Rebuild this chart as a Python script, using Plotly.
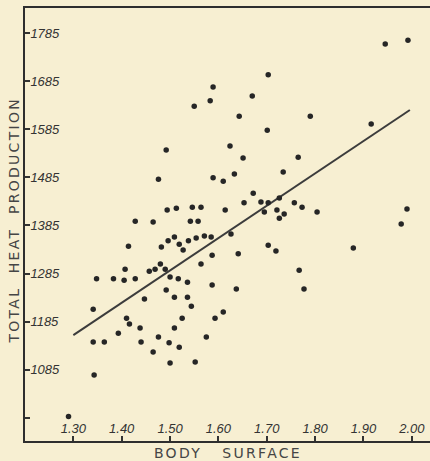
import plotly.graph_objects as go

# Body surface (sq. m) of each subject
body_surface = [
    1.29, 1.343, 1.341, 1.364, 1.341, 1.348, 1.383, 1.393, 1.405, 1.428,
    1.407, 1.414, 1.410, 1.416, 1.428, 1.438, 1.440, 1.447, 1.457, 1.465,
    1.465, 1.469, 1.476, 1.476, 1.480, 1.482, 1.490, 1.492, 1.492, 1.494,
    1.496, 1.498, 1.500, 1.500, 1.509, 1.509, 1.509, 1.513, 1.517, 1.519,
    1.519, 1.525, 1.527, 1.536, 1.536, 1.538, 1.542, 1.546, 1.544, 1.550,
    1.552, 1.554, 1.558, 1.564, 1.564, 1.571, 1.575, 1.583, 1.585, 1.587,
    1.587, 1.589, 1.589, 1.593, 1.610, 1.610, 1.614, 1.624, 1.626, 1.633,
    1.637, 1.641, 1.643, 1.651, 1.653, 1.670, 1.672, 1.688, 1.695, 1.701,
    1.703, 1.703, 1.703, 1.719, 1.721, 1.726, 1.726, 1.734, 1.736, 1.757,
    1.765, 1.767, 1.773, 1.777, 1.790, 1.804, 1.879, 1.916, 1.945, 1.978,
    1.990, 1.992,
]

# Total heat production of each subject
heat_production = [
    988, 1074, 1143, 1143, 1211, 1274, 1274, 1161, 1271, 1274,
    1294, 1342, 1192, 1180, 1394, 1172, 1143, 1232, 1290, 1392,
    1122, 1294, 1153, 1481, 1305, 1340, 1294, 1251, 1542, 1417,
    1353, 1141, 1278, 1099, 1361, 1236, 1172, 1421, 1274, 1346,
    1132, 1192, 1334, 1267, 1236, 1353, 1394, 1423, 1217, 1633,
    1101, 1359, 1394, 1423, 1305, 1363, 1153, 1644, 1361, 1323,
    1261, 1484, 1673, 1192, 1477, 1205, 1417, 1550, 1367, 1492,
    1253, 1326, 1612, 1525, 1432, 1654, 1452, 1434, 1413, 1583,
    1698, 1432, 1344, 1332, 1417, 1442, 1400, 1496, 1409, 1432,
    1527, 1292, 1423, 1253, 1612, 1413, 1338, 1596, 1762, 1388,
    1419, 1770,
]

# Fitted line end points
line_x = [1.30, 1.996]
line_y = [1157, 1625]

x_tickvals = [1.30, 1.40, 1.50, 1.60, 1.70, 1.80, 1.90, 2.00]
x_ticktext = ["1.30", "1.40", "1.50", "1.60", "1.70", "1.80", "1.90", "2.00"]
y_tickvals = [985, 1085, 1185, 1285, 1385, 1485, 1585, 1685, 1785]
y_ticktext = ["", "1085", "1185", "1285", "1385", "1485", "1585", "1685", "1785"]

bg = "#f7efd2"
ink = "#333333"

fig = go.Figure()
fig.add_trace(go.Scatter(
    x=line_x, y=line_y, mode="lines",
    line=dict(color="#3c3c3c", width=2), hoverinfo="skip", showlegend=False,
))
fig.add_trace(go.Scatter(
    x=body_surface, y=heat_production, mode="markers",
    marker=dict(color="#262626", size=5.5), showlegend=False,
))

tick_font = dict(family="Liberation Sans, Arial, sans-serif", size=13,
                 color=ink, style="italic")
title_font = dict(family="DejaVu Sans, sans-serif", size=14, color="#454545")

fig.update_layout(
    width=430, height=461,
    margin=dict(l=25, r=0, t=8, b=20),
    paper_bgcolor=bg, plot_bgcolor=bg,
    xaxis=dict(
        range=[1.2, 2.0376], showgrid=False, zeroline=False,
        tickvals=x_tickvals, ticktext=x_ticktext,
        ticks="inside", ticklen=5, tickwidth=1.5, tickcolor=ink,
        ticklabelposition="inside", tickfont=tick_font,
        showline=True, linecolor="#2e2e2e", linewidth=2, mirror=True,
    ),
    yaxis=dict(
        range=[937, 1837], showgrid=False, zeroline=False,
        tickvals=y_tickvals, ticktext=y_ticktext,
        ticks="inside", ticklen=5, tickwidth=1.5, tickcolor=ink,
        ticklabelposition="inside", tickfont=tick_font,
        showline=True, linecolor="#2e2e2e", linewidth=2,
    ),
    annotations=[
        dict(text="TOTAL\u00a0\u00a0HEAT\u00a0\u00a0PRODUCTION",
             xref="paper", yref="paper", x=0, y=0.51,
             xanchor="center", yanchor="middle", xshift=-11,
             textangle=-90, showarrow=False, font=title_font),
        dict(text="BODY\u00a0\u00a0\u00a0SURFACE",
             xref="paper", yref="paper", x=0.502, y=0,
             xanchor="center", yanchor="middle", yshift=-12,
             showarrow=False, font=title_font),
    ],
)

page_fix = (
    "document.body.style.margin='0';"
    "document.body.style.background='" + bg + "';"
    "document.querySelectorAll('.annotation-text').forEach(function(t){"
    "t.style.letterSpacing='2.3px';});"
)

fig.write_html("out.html", post_script=page_fix,
               config={"displayModeBar": False})
